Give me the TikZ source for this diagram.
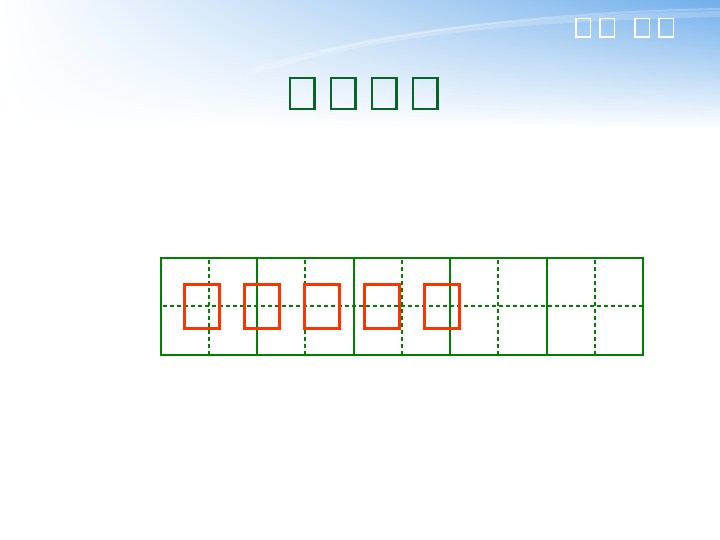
\documentclass[tikz,border=0pt]{standalone}
\definecolor{skyA}{RGB}{112,174,234}
\definecolor{skyB}{RGB}{176,214,246}
\definecolor{titlegreen}{RGB}{10,100,40}
\definecolor{gridgreen}{RGB}{0,128,0}
\definecolor{boxred}{RGB}{255,51,0}
\tikzset{
  titlechar/.style={draw=titlegreen, line width=2.2pt, minimum width=24.5pt, minimum height=31.1pt, inner sep=0pt},
  headchar/.style={draw=white, line width=1.4pt, minimum width=14.4pt, minimum height=18.4pt, inner sep=0pt},
  redchar/.style={draw=boxred, line width=3pt, minimum width=35.3pt, minimum height=44.6pt, inner sep=0pt},
  gridsolid/.style={draw=gridgreen, line width=2.2pt},
  griddash/.style={draw=gridgreen, line width=2.2pt, dash pattern=on 4pt off 3pt},
}
\begin{document}
\begin{tikzpicture}[x=1pt,y=-1pt]
\useasboundingbox (0,0) rectangle (720,540);
\fill[white] (0,0) rectangle (720,540);
% sky background built from thin horizontal strips
\foreach \k in {0,...,64} {
  \pgfmathsetmacro{\pa}{max(0,100*(1-\k/64)^0.9)}
  \pgfmathsetmacro{\pb}{max(0,100*(1-\k/64)^1.2)}
  \colorlet{stripR}{skyA!\pa!white}
  \colorlet{stripM}{skyB!\pb!white}
  \shade[left color=white, middle color=stripM, right color=stripR, draw=none]
    (0,{2*\k}) rectangle (720,{2*\k+2.2});
}
% light swoosh
\draw[white, opacity=0.22, line width=6pt, line cap=round] (250,72) .. controls (400,25) and (560,18) .. (720,14);
\draw[white, opacity=0.25, line width=2pt, line cap=round] (320,52) .. controls (440,25) and (570,12) .. (720,9);
% header characters
\node[headchar] (h1) at (583,27.8) {};
\node[headchar] (h2) at (607,27.8) {};
\node[headchar] (h3) at (642,27.8) {};
\node[headchar] (h4) at (666,27.8) {};
% title characters
\node[titlechar] (t1) at (302.3,93.6) {};
\node[titlechar] (t2) at (343.3,93.6) {};
\node[titlechar] (t3) at (384.3,93.6) {};
\node[titlechar] (t4) at (425.3,93.6) {};
% writing grid
\coordinate (gTL) at (161,258);
\coordinate (gBR) at (643,355);
\coordinate (mL) at (163,306);
\coordinate (mR) at (643,306);
\draw[griddash] (mL) -- (mR);
\foreach \x in {209,305,402,498,595} {
  \coordinate (dt) at (\x,260);
  \coordinate (db) at (\x,355);
  \draw[griddash] (dt) -- (db);
}
\foreach \x in {257,354,450,547} {
  \coordinate (st) at (\x,258);
  \coordinate (sb) at (\x,355);
  \draw[gridsolid] (st) -- (sb);
}
\draw[gridsolid] (gTL) rectangle (gBR);
% red characters
\node[redchar] (r1) at (201.8,306.5) {};
\node[redchar] (r2) at (261.8,306.5) {};
\node[redchar] (r3) at (321.8,306.5) {};
\node[redchar] (r4) at (381.8,306.5) {};
\node[redchar] (r5) at (441.8,306.5) {};
\end{tikzpicture}
\end{document}
